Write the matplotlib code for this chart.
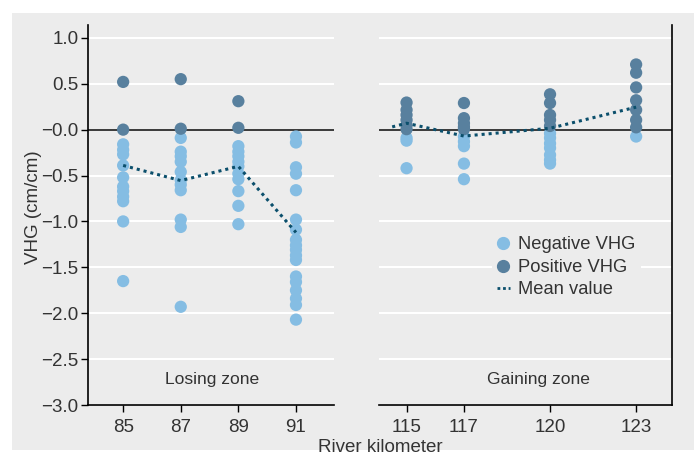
import matplotlib
matplotlib.use("Agg")
import matplotlib.pyplot as plt
from matplotlib.patches import Rectangle
from matplotlib.lines import Line2D

# VHG measurements per river kilometre (cm/cm)
vhg_losing = {
    85: [0.52, 0.0, -0.16, -0.22, -0.27, -0.39, -0.52, -0.62, -0.67, -0.73, -0.78, -1.0, -1.65],
    87: [0.55, 0.01, -0.09, -0.24, -0.29, -0.35, -0.46, -0.55, -0.60, -0.66, -0.98, -1.06, -1.93],
    89: [0.31, 0.02, -0.18, -0.24, -0.29, -0.35, -0.40, -0.48, -0.54, -0.67, -0.83, -1.03],
    91: [-0.075, -0.14, -0.41, -0.48, -0.66, -0.98, -1.09, -1.20, -1.26, -1.31, -1.37, -1.42,
         -1.60, -1.66, -1.75, -1.84, -1.91, -2.07],
}
vhg_gaining = {
    115: [0.295, 0.215, 0.16, 0.105, 0.05, 0.005, -0.09, -0.12, -0.42],
    117: [0.29, 0.125, 0.07, 0.03, 0.005, -0.075, -0.13, -0.18, -0.37, -0.54],
    120: [0.385, 0.29, 0.16, 0.105, 0.04, -0.04, -0.09, -0.15, -0.20, -0.275, -0.33, -0.37],
    123: [0.71, 0.62, 0.46, 0.32, 0.215, 0.105, 0.025, -0.075],
}

# mean values
mean_km_losing = [85, 87, 89, 91]
mean_losing = [-0.39, -0.555, -0.40, -1.12]
mean_km_gaining = [114.5, 115, 117, 120, 123]
mean_gaining = [0.03, 0.07, -0.07, 0.015, 0.245]

losing_ticks = [85, 87, 89, 91]
gaining_ticks = [115, 117, 120, 123]
y_ticks = [1.0, 0.5, 0.0, -0.5, -1.0, -1.5, -2.0, -2.5, -3.0]
y_ticklabels = ["1.0", "0.5", "\u22120.0", "\u22120.5", "\u22121.0", "\u22121.5",
                "\u22122.0", "\u22122.5", "\u22123.0"]

neg_color = "#85bde3"
pos_color = "#58809e"
mean_color = "#0b4f6c"
bg = "#ececec"
txt = "#333333"

plt.rcParams["font.family"] = ["Liberation Sans", "DejaVu Sans"]
plt.rcParams["font.size"] = 13

fig = plt.figure(figsize=(6.94, 4.59), dpi=100)
fig.patch.set_facecolor("white")
fig.patches.append(Rectangle((12 / 694, 1 - 450 / 459), 682 / 694, 437 / 459,
                             transform=fig.transFigure, facecolor=bg, edgecolor="none",
                             zorder=-10))

ax1 = fig.add_axes([88 / 694, 1 - 405 / 459, 246 / 694, 380 / 459])
ax2 = fig.add_axes([379 / 694, 1 - 405 / 459, 293 / 694, 380 / 459])


def draw_panel(ax, data, mean_km, mean_vals, ticks, xlim):
    ax.set_facecolor(bg)
    for y in y_ticks:
        if y != 0:
            ax.axhline(y, color="white", lw=1.5, zorder=1)
    ax.axhline(0, color="#3a3a3a", lw=1.4, zorder=2)
    for km, vals in data.items():
        neg = [v for v in vals if v < 0]
        pos = [v for v in vals if v >= 0]
        ax.scatter([km] * len(neg), neg, s=78, color=neg_color, edgecolors="none", zorder=3)
        ax.scatter([km] * len(pos), pos, s=78, color=pos_color, edgecolors="none", zorder=3)
    ax.plot(mean_km, mean_vals, color=mean_color, lw=2.2, ls=(0, (1, 1.3)), zorder=4)
    ax.set_xlim(*xlim)
    ax.set_ylim(-3.0, 1.14)
    ax.set_xticks(ticks)
    ax.set_xticklabels([str(t) for t in ticks], fontsize=13.5, color=txt)
    ax.tick_params(axis="x", direction="out", length=5, width=1, pad=5)
    for s in ["top", "right", "left"]:
        ax.spines[s].set_visible(False)
    ax.spines["bottom"].set_linewidth(1.2)


draw_panel(ax1, vhg_losing, mean_km_losing, mean_losing, losing_ticks, (83.78, 92.32))
draw_panel(ax2, vhg_gaining, mean_km_gaining, mean_gaining, gaining_ticks, (114.04, 124.25))

ax1.spines["left"].set_visible(True)
ax1.spines["left"].set_linewidth(1.2)
ax1.set_yticks(y_ticks)
ax1.set_yticklabels(y_ticklabels, fontsize=13.5, color=txt)
ax1.tick_params(axis="y", direction="out", length=5, width=1, pad=2)

ax2.spines["right"].set_visible(True)
ax2.spines["right"].set_linewidth(1.2)
ax2.set_yticks([])

ax1.text(0.504, 0.066, "Losing zone", transform=ax1.transAxes, ha="center", va="center",
         fontsize=12.6, color=txt)
ax2.text(0.543, 0.066, "Gaining zone", transform=ax2.transAxes, ha="center", va="center",
         fontsize=12.6, color=txt)

handles = [
    Line2D([], [], marker="o", ls="none", color=neg_color, markersize=8.5),
    Line2D([], [], marker="o", ls="none", color=pos_color, markersize=8.5),
    Line2D([], [], color=mean_color, lw=2, ls=(0, (1, 1))),
]
leg = ax2.legend(handles, ["Negative VHG", "Positive VHG", "Mean value"], loc="center left",
                 bbox_to_anchor=(0.384, 0.362), borderaxespad=0, frameon=True, facecolor=bg,
                 edgecolor="none", fontsize=13.2, handlelength=0.7, handletextpad=0.45,
                 labelspacing=0.3, borderpad=0.3, framealpha=1)
for t in leg.get_texts():
    t.set_color(txt)

fig.text(380 / 694, 1 - 447 / 459, "River kilometer", ha="center", va="center",
         fontsize=13.5, color=txt)
fig.text(34 / 694, 1 - 207 / 459, "VHG (cm/cm)", ha="center", va="center", rotation=90,
         fontsize=13.5, color=txt)

fig.savefig("out.png", dpi=100, facecolor=fig.get_facecolor())
